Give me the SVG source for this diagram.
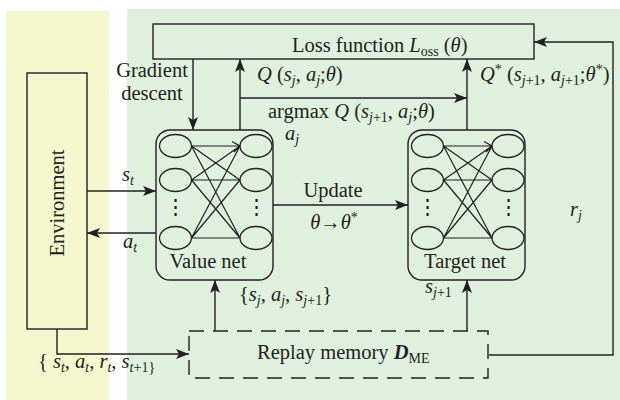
<svg xmlns="http://www.w3.org/2000/svg" width="620" height="400" viewBox="0 0 620 400">
<defs>
<marker id="ah" markerWidth="14" markerHeight="11" refX="13" refY="5.5" orient="auto" markerUnits="userSpaceOnUse">
<path d="M0,0.5 L13,5.5 L0,10.5 L3,5.5 z" fill="#231f20"/>
</marker>
<style>
text{font-family:"Liberation Serif","Times New Roman",serif;font-size:20.5px;fill:#231f20}
.i{font-style:italic}
.sub{font-size:14px}
.ln{stroke:#231f20;stroke-width:1.4;fill:none}
.box{stroke:#231f20;stroke-width:1.4;fill:none}
.nd{stroke:#231f20;stroke-width:1.3;fill:none}
.w{stroke:#231f20;stroke-width:1.2;fill:none}
</style>
</defs>
<rect x="6" y="11" width="103" height="389" fill="#f5f7ce"/>
<rect x="127" y="9" width="493" height="391" fill="#dff0de"/>

<g id="environment">
<rect class="box" x="27" y="73" width="60" height="256"/>
<text transform="rotate(-90 57 203)" x="57" y="210" text-anchor="middle">Environment</text>
</g>

<g id="loss">
<rect class="box" x="153" y="24" width="381" height="35"/>
<text x="292" y="52">Loss function <tspan class="i">L</tspan><tspan class="sub" dy="4">oss</tspan><tspan dy="-4"> (</tspan><tspan class="i">θ</tspan>)</text>
</g>

<g id="value-net">
<rect class="box" x="156" y="130" width="117" height="150" rx="14"/>
<ellipse class="nd" cx="175.5" cy="146" rx="16" ry="11.5"/>
<ellipse class="nd" cx="175.5" cy="180" rx="16" ry="11.5"/>
<ellipse class="nd" cx="175.5" cy="238" rx="16" ry="11.5"/>
<ellipse class="nd" cx="256" cy="146" rx="16" ry="11.5"/>
<ellipse class="nd" cx="256" cy="180" rx="16" ry="11.5"/>
<ellipse class="nd" cx="256" cy="238" rx="16" ry="11.5"/>
<path class="w" d="M191.5,146 L240,146 M191.5,146 L240,180 M191.5,146 L240,238 M191.5,180 L240,146 M191.5,180 L240,180 M191.5,180 L240,238 M191.5,238 L240,146 M191.5,238 L240,180 M191.5,238 L240,238 M232,141.5 L240,146 L234,152"/>
<text x="175.5" y="214" text-anchor="middle" font-size="14">⋮</text>
<text x="256" y="214" text-anchor="middle" font-size="14">⋮</text>
<text x="208" y="268" text-anchor="middle">Value net</text>
</g>

<g id="target-net">
<rect class="box" x="408" y="130" width="117" height="150" rx="14"/>
<ellipse class="nd" cx="427.5" cy="146" rx="16" ry="11.5"/>
<ellipse class="nd" cx="427.5" cy="180" rx="16" ry="11.5"/>
<ellipse class="nd" cx="427.5" cy="238" rx="16" ry="11.5"/>
<ellipse class="nd" cx="508" cy="146" rx="16" ry="11.5"/>
<ellipse class="nd" cx="508" cy="180" rx="16" ry="11.5"/>
<ellipse class="nd" cx="508" cy="238" rx="16" ry="11.5"/>
<path class="w" d="M443.5,146 L492,146 M443.5,146 L492,180 M443.5,146 L492,238 M443.5,180 L492,146 M443.5,180 L492,180 M443.5,180 L492,238 M443.5,238 L492,146 M443.5,238 L492,180 M443.5,238 L492,238 M484,141.5 L492,146 L486,152"/>
<text x="427.5" y="214" text-anchor="middle" font-size="14">⋮</text>
<text x="508" y="214" text-anchor="middle" font-size="14">⋮</text>
<text x="465" y="268" text-anchor="middle">Target net</text>
</g>

<g id="replay-memory">
<rect x="189" y="331" width="299" height="47" fill="none" stroke="#231f20" stroke-width="1.4" stroke-dasharray="15 9"/>
<text x="257" y="359">Replay memory <tspan font-weight="bold" font-style="italic">D</tspan><tspan class="sub" dy="4">ME</tspan></text>
</g>

<g id="connectors">
<path class="ln" d="M193,59 L193,130" marker-end="url(#ah)"/>
<path class="ln" d="M240,130 L240,59" marker-end="url(#ah)"/>
<path class="ln" d="M240,98 L467,98" marker-end="url(#ah)"/>
<path class="ln" d="M467,130 L467,59" marker-end="url(#ah)"/>
<path class="ln" d="M87,191 L156,191" marker-end="url(#ah)"/>
<path class="ln" d="M156,233 L87,233" marker-end="url(#ah)"/>
<path class="ln" d="M273,205 L408,205" marker-end="url(#ah)"/>
<path class="ln" d="M215,331 L215,280" marker-end="url(#ah)"/>
<path class="ln" d="M467,331 L467,280" marker-end="url(#ah)"/>
<path class="ln" d="M57,329 L57,354 L189,354" marker-end="url(#ah)"/>
<path class="ln" d="M489,355 L613,355 L613,42 L534,42" marker-end="url(#ah)"/>

<text x="152" y="77" text-anchor="middle">Gradient</text>
<text x="152" y="100" text-anchor="middle">descent</text>
<text x="257" y="81"><tspan class="i">Q</tspan> (<tspan class="i">s</tspan><tspan class="sub i" dy="4">j</tspan><tspan dy="-4">, </tspan><tspan class="i">a</tspan><tspan class="sub i" dy="4">j</tspan><tspan dy="-4">;</tspan><tspan class="i">θ</tspan>)</text>
<text x="268" y="118">argmax <tspan class="i">Q</tspan> (<tspan class="i">s</tspan><tspan class="sub" dy="4"><tspan class="i">j</tspan>+1</tspan><tspan dy="-4">, </tspan><tspan class="i">a</tspan><tspan class="sub i" dy="4">j</tspan><tspan dy="-4">;</tspan><tspan class="i">θ</tspan>)</text>
<text x="285" y="140" class="i">a<tspan class="sub" dy="4">j</tspan></text>
<text x="480" y="81"><tspan class="i">Q</tspan><tspan class="sub" dy="-7">*</tspan><tspan dy="7"> (</tspan><tspan class="i">s</tspan><tspan class="sub" dy="4"><tspan class="i">j</tspan>+1</tspan><tspan dy="-4">, </tspan><tspan class="i">a</tspan><tspan class="sub" dy="4"><tspan class="i">j</tspan>+1</tspan><tspan dy="-4">;</tspan><tspan class="i">θ</tspan><tspan class="sub" dy="-7">*</tspan><tspan dy="7">)</tspan></text>
<text x="122" y="181" class="i">s<tspan class="sub" dy="4">t</tspan></text>
<text x="123" y="248" class="i">a<tspan class="sub" dy="4">t</tspan></text>
<text x="333" y="197" text-anchor="middle">Update</text>
<text x="334" y="229" text-anchor="middle"><tspan class="i">θ</tspan>→<tspan class="i">θ</tspan><tspan class="sub" dy="-7">*</tspan></text>
<text x="239" y="301">{<tspan class="i">s</tspan><tspan class="sub i" dy="4">j</tspan><tspan dy="-4">, </tspan><tspan class="i">a</tspan><tspan class="sub i" dy="4">j</tspan><tspan dy="-4">, </tspan><tspan class="i">s</tspan><tspan class="sub" dy="4"><tspan class="i">j</tspan>+1</tspan><tspan dy="-4">}</tspan></text>
<text x="425" y="293"><tspan class="i">s</tspan><tspan class="sub" dy="4"><tspan class="i">j</tspan>+1</tspan></text>
<text x="570" y="216" class="i">r<tspan class="sub" dy="4">j</tspan></text>
<text x="38" y="368">{ <tspan class="i">s</tspan><tspan class="sub i" dy="4">t</tspan><tspan dy="-4">, </tspan><tspan class="i">a</tspan><tspan class="sub i" dy="4">t</tspan><tspan dy="-4">, </tspan><tspan class="i">r</tspan><tspan class="sub i" dy="4">t</tspan><tspan dy="-4">, </tspan><tspan class="i">s</tspan><tspan class="sub" dy="4"><tspan class="i">t</tspan>+1}</tspan></text>
</g>
</svg>
